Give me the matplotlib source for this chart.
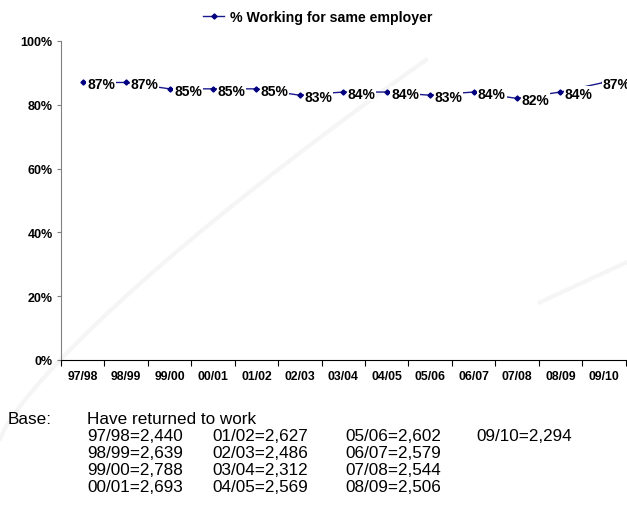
import matplotlib.pyplot as plt
import numpy as np

# Survey years and share still working for the same employer
years = ["97/98", "98/99", "99/00", "00/01", "01/02", "02/03", "03/04",
         "04/05", "05/06", "06/07", "07/08", "08/09", "09/10"]
same_employer = [87, 87, 85, 85, 85, 83, 84, 84, 83, 84, 82, 84, 87]
base_sizes = ["2,440", "2,639", "2,788", "2,693", "2,627", "2,486", "2,312",
              "2,569", "2,602", "2,579", "2,544", "2,506", "2,294"]

plt.rcParams['font.family'] = ['Liberation Sans', 'DejaVu Sans']

fig = plt.figure(figsize=(6.27, 5.06), dpi=100)

# faint background swooshes
bg = fig.add_axes([0, 0, 1, 1], zorder=-1)
bg.set_xlim(0, 1)
bg.set_ylim(0, 1)
bg.axis('off')
t = np.linspace(0, 1, 100)
bg.plot(0.0 + 0.68 * t, 0.13 + 0.75 * t ** 0.8, color='#f5f5f5', lw=3, solid_capstyle='round')
bg.plot(0.86 + 0.14 * t, 0.40 + 0.08 * t, color='#f5f5f5', lw=3, solid_capstyle='round')

ax = fig.add_axes([61 / 627, 1 - 361 / 506, 564.5 / 627, 319 / 506])
x = np.arange(len(years))
ax.plot(x, same_employer, color='#1a1a8c', lw=1.0, marker='D', markersize=2.6,
        markerfacecolor='#000080', markeredgecolor='#000080',
        label='% Working for same employer', clip_on=False)

# value labels sit to the right of each point, masking the line behind them
for xi, v in zip(x, same_employer):
    dx = 3.2 if xi < len(years) - 1 else -1.0
    ax.annotate(f"{v}%", (xi, v), xytext=(dx, -1.2), textcoords='offset points',
                ha='left', va='center', fontsize=10, fontweight='bold',
                bbox=dict(boxstyle='square,pad=0.05', fc='white', ec='none'),
                annotation_clip=False, zorder=5)

ax.set_xlim(-0.5, len(years) - 0.5)
ax.set_ylim(0, 100)
ax.set_yticks([0, 20, 40, 60, 80, 100])
ax.set_yticklabels([f"{v}%" for v in range(0, 101, 20)], fontsize=9, fontweight='bold')

# ticks sit between categories, labels at the centres
ax.set_xticks(np.arange(-0.5, len(years), 1))
ax.set_xticklabels([])
ax.set_xticks(x, minor=True)
ax.set_xticklabels(years, minor=True, fontsize=8.8, fontweight='bold')
ax.tick_params(axis='x', which='major', length=4, width=0.8, direction='out')
ax.tick_params(axis='x', which='minor', length=0, pad=7)
ax.tick_params(axis='y', length=3, width=0.8, color='#808080', pad=3)

ax.spines['top'].set_visible(False)
ax.spines['right'].set_visible(False)
ax.spines['left'].set_color('#808080')
ax.spines['bottom'].set_color('black')
ax.patch.set_alpha(0)

ax.legend(loc='center', bbox_to_anchor=(0.455, 1.075), frameon=False,
          prop={'size': 10.2, 'weight': 'bold'}, handlelength=1.5, handletextpad=0.4,
          borderaxespad=0)

# base sizes underneath the chart
fs = 12.3
fig.text(8 / 627, 1 - 420 / 506, "Base:", fontsize=fs, va='center')
fig.text(87 / 627, 1 - 420 / 506, "Have returned to work", fontsize=fs, va='center')
col_x = [87, 212, 345, 476]
for i, (yr, n) in enumerate(zip(years, base_sizes)):
    col, row = divmod(i, 4)
    fig.text(col_x[col] / 627, 1 - (437 + 17 * row) / 506, f"{yr}={n}",
             fontsize=fs, va='center')

fig.savefig("out.png", dpi=100)
